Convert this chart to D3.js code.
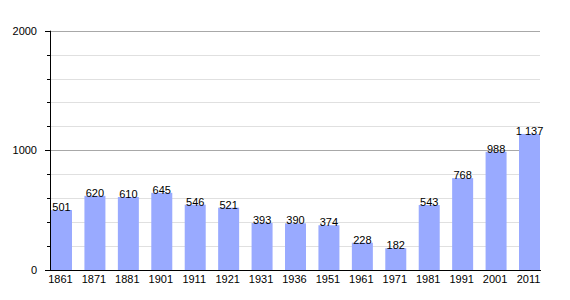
<!DOCTYPE html>
<html><head><meta charset="utf-8">
<script src="https://cdn.jsdelivr.net/npm/d3@7"></script>
<style>body{margin:0;background:#fff;} text{font-family:"Liberation Sans",Arial,sans-serif;}</style>
</head><body>
<svg id="c" width="570" height="300"></svg>
<script>
const years = ["1861","1871","1881","1901","1911","1921","1931","1936","1951","1961","1971","1981","1991","2001","2011"];
const population = [501,620,610,645,546,521,393,390,374,228,182,543,768,988,1137];
const valueLabels = ["501","620","610","645","546","521","393","390","374","228","182","543","768","988","1 137"];
const majorTicks = [0,1000,2000];
const minorTicks = [200,400,600,800,1200,1400,1600,1800];

const svg = d3.select("#c");
const x = d3.scaleBand().domain(years).range([51,540]).paddingInner(0.372).paddingOuter(0).align(0);
const y = d3.scaleLinear().domain([0,2000]).range([270,30.7]);

// minor grid
svg.append("g").selectAll("line").data(minorTicks).join("line")
  .attr("x1",51).attr("x2",540).attr("y1",d=>Math.round(y(d))+0.5).attr("y2",d=>Math.round(y(d))+0.5)
  .attr("stroke","#e0e0e0").attr("stroke-width",1);
// major grid
svg.append("g").selectAll("line").data(majorTicks.filter(d=>d>0)).join("line")
  .attr("x1",51).attr("x2",540).attr("y1",d=>Math.round(y(d))+0.5).attr("y2",d=>Math.round(y(d))+0.5)
  .attr("stroke","#a8a8a8").attr("stroke-width",1);

// bars
svg.append("g").selectAll("rect").data(years).join("rect")
  .attr("x",d=>x(d)).attr("width",x.bandwidth())
  .attr("y",(d,i)=>y(population[i])).attr("height",(d,i)=>y(0)-y(population[i]))
  .attr("fill","#99aaff");

// value labels
svg.append("g").selectAll("text").data(years).join("text")
  .attr("x",d=>x(d)+x.bandwidth()/2).attr("y",(d,i)=>y(population[i])+1)
  .attr("text-anchor","middle").attr("font-size",11).attr("fill","#000")
  .text((d,i)=>valueLabels[i]);

// y axis line and ticks
svg.append("line").attr("x1",50.5).attr("x2",50.5).attr("y1",y(2000)).attr("y2",270.5).attr("stroke","#000");
svg.append("g").selectAll("line").data(majorTicks).join("line")
  .attr("x1",45).attr("x2",51).attr("y1",d=>Math.round(y(d))+0.5).attr("y2",d=>Math.round(y(d))+0.5).attr("stroke","#000");
svg.append("g").selectAll("line").data(minorTicks).join("line")
  .attr("x1",47).attr("x2",51).attr("y1",d=>Math.round(y(d))+0.5).attr("y2",d=>Math.round(y(d))+0.5).attr("stroke","#000");
svg.append("g").selectAll("text").data(majorTicks).join("text")
  .attr("x",37).attr("y",d=>y(d)+4).attr("text-anchor","end").attr("font-size",11).text(d=>d);

// x axis
svg.append("line").attr("x1",50).attr("x2",541).attr("y1",270.5).attr("y2",270.5).attr("stroke","#000");
svg.append("g").selectAll("text").data(years).join("text")
  .attr("x",d=>x(d)+x.bandwidth()/2-1).attr("y",283).attr("text-anchor","middle").attr("font-size",11).text(d=>d);
</script>
</body></html>
